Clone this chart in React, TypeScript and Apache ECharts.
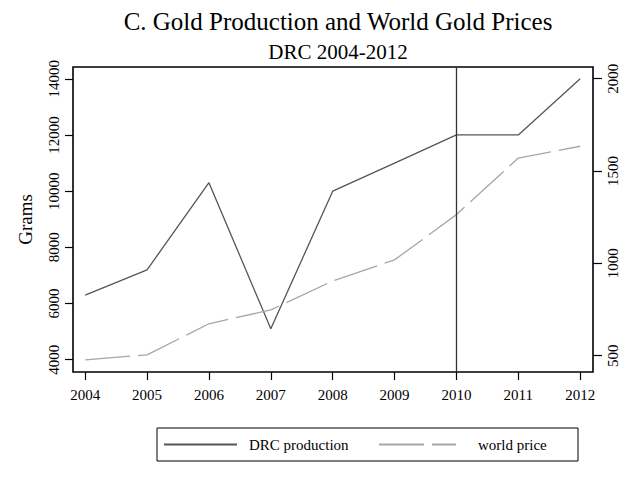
import React, { useEffect, useRef } from "react";
import * as echarts from "echarts";

const years = [2004, 2005, 2006, 2007, 2008, 2009, 2010, 2011, 2012];
// DRC gold output in grams
const drcProduction = [6300, 7200, 10300, 5100, 10000, 11000, 12000, 12000, 14000];
// world gold price, right-hand scale
const worldPrice = [478, 505, 673, 748, 905, 1019, 1264, 1570, 1634];

const gramTicks = [4000, 6000, 8000, 10000, 12000, 14000];
const priceTicks = [500, 1000, 1500, 2000];
const markerYear = 2010;

const FONT = "'Liberation Serif', 'Times New Roman', serif";

export default function App() {
  const ref = useRef<HTMLDivElement>(null);

  useEffect(() => {
    document.body.style.margin = "0";
    if (!ref.current) return;
    const chart = echarts.init(ref.current, null, { renderer: "svg" });

    const tickLine = { color: "#000", width: 1.2 };
    const labelBase = { fontFamily: FONT, fontSize: 15, color: "#000" };
    const plain = (v: number) => String(v);

    chart.setOption({
      animation: false,
      backgroundColor: "#fff",
      title: [
        {
          text: "C. Gold Production and World Gold Prices",
          left: 333,
          top: 4,
          textAlign: "center",
          textStyle: { fontFamily: FONT, fontSize: 25, fontWeight: "normal", color: "#000" },
        },
        {
          text: "DRC 2004-2012",
          left: 333,
          top: 36,
          textAlign: "center",
          textStyle: { fontFamily: FONT, fontSize: 21, fontWeight: "normal", color: "#000" },
        },
      ],
      grid: {
        left: 73,
        right: 33,
        top: 67,
        bottom: 110,
        show: true,
        borderColor: "#000",
        borderWidth: 1.6,
        backgroundColor: "transparent",
      },
      xAxis: {
        type: "value",
        min: 2003.803,
        max: 2012.207,
        axisLine: { show: false },
        splitLine: { show: false },
        axisTick: { show: true, customValues: years, length: 8, lineStyle: tickLine },
        axisLabel: { ...labelBase, customValues: years, margin: 15, formatter: plain },
      },
      yAxis: [
        {
          type: "value",
          position: "left",
          min: 3563,
          max: 14419,
          name: "Grams",
          nameLocation: "middle",
          nameGap: 38,
          nameTextStyle: { fontFamily: FONT, fontSize: 19, color: "#000" },
          axisLine: { show: false },
          splitLine: { show: false },
          axisTick: { show: true, customValues: gramTicks, length: 8, lineStyle: tickLine },
          axisLabel: { ...labelBase, customValues: gramTicks, rotate: 90, margin: 12, formatter: plain },
        },
        {
          type: "value",
          position: "right",
          min: 412,
          max: 2063,
          axisLine: { show: false },
          splitLine: { show: false },
          axisTick: { show: true, customValues: priceTicks, length: 9, lineStyle: tickLine },
          axisLabel: { ...labelBase, customValues: priceTicks, rotate: 90, margin: 12, formatter: plain },
        },
      ],
      legend: [
        {
          data: ["DRC production"],
          left: 158,
          top: 432,
          itemWidth: 73,
          itemHeight: 14,
          itemStyle: { opacity: 0 },
          textStyle: { ...labelBase, padding: [0, 0, 0, 7] },
        },
        {
          data: ["world price"],
          left: 373,
          top: 432,
          itemWidth: 77,
          itemHeight: 14,
          itemStyle: { opacity: 0 },
          textStyle: { ...labelBase, padding: [0, 0, 0, 17] },
        },
      ],
      graphic: [
        {
          type: "rect",
          shape: { x: 157, y: 428, width: 421, height: 33 },
          style: { fill: "none", stroke: "#000", lineWidth: 1 },
          silent: true,
        },
      ],
      series: [
        {
          name: "DRC production",
          type: "line",
          yAxisIndex: 0,
          data: years.map((y, i) => [y, drcProduction[i]]),
          symbol: "none",
          color: "#555",
          lineStyle: { color: "#555", width: 1.3 },
          markLine: {
            silent: true,
            symbol: ["none", "none"],
            label: { show: false },
            lineStyle: { color: "#333", width: 1.3, type: "solid" },
            data: [{ xAxis: markerYear }],
          },
        },
        {
          name: "world price",
          type: "line",
          yAxisIndex: 1,
          data: years.map((y, i) => [y, worldPrice[i]]),
          symbol: "none",
          color: "#a6a6a6",
          lineStyle: { color: "#a6a6a6", width: 1.3, type: [45, 8] },
        },
      ],
    });

    return () => chart.dispose();
  }, []);

  return (
    <div
      ref={ref}
      style={{ position: "fixed", left: 0, top: 0, width: 626, height: 482 }}
    />
  );
}
